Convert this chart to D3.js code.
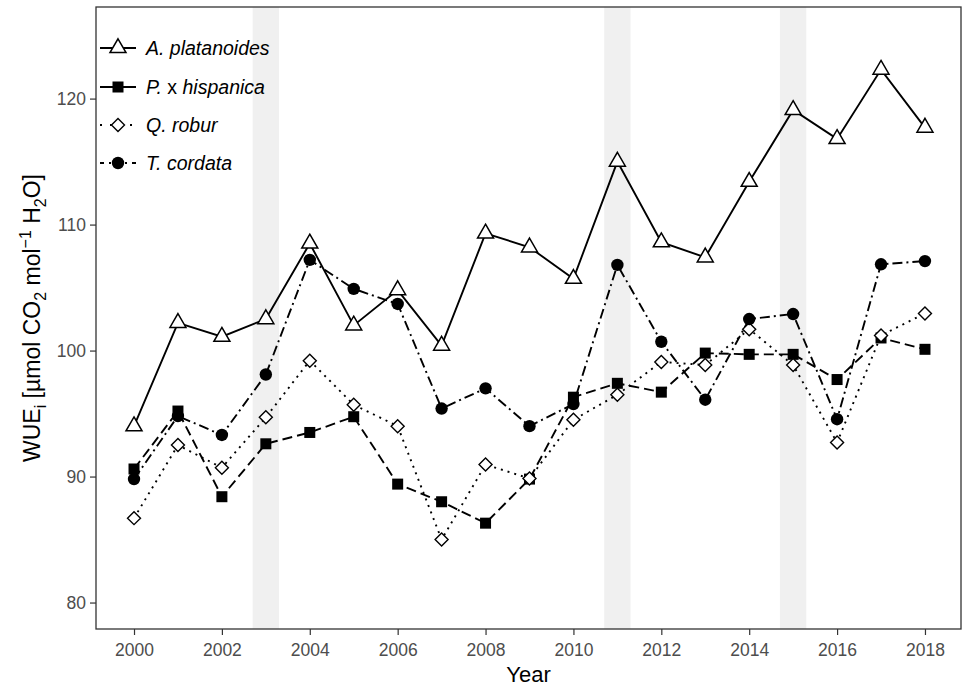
<!DOCTYPE html>
<html>
<head>
<meta charset="utf-8">
<script src="https://cdn.jsdelivr.net/npm/d3@7"></script>
<style>
  html, body { margin: 0; padding: 0; background: #fff; }
  svg { display: block; font-family: "Liberation Sans", Arial, sans-serif; }
</style>
</head>
<body>
<svg id="chart" width="965" height="686"></svg>
<script>
// Years of observation
const years = [2000, 2001, 2002, 2003, 2004, 2005, 2006, 2007, 2008, 2009,
               2010, 2011, 2012, 2013, 2014, 2015, 2016, 2017, 2018];

// Intrinsic water-use efficiency per species
const platanoides = [94.0, 102.2, 101.1, 102.5, 108.5, 102.0, 104.8, 100.4, 109.3, 108.2,
                     105.7, 115.0, 108.6, 107.4, 113.4, 119.1, 116.8, 122.3, 117.7];
const hispanica   = [90.6, 95.2, 88.4, 92.6, 93.5, 94.75, 89.4, 88.0, 86.3, 89.8,
                     96.3, 97.4, 96.7, 99.8, 99.7, 99.7, 97.7, 101.0, 100.1];
const robur       = [86.7, 92.5, 90.7, 94.7, 99.2, 95.7, 94.0, 85.0, 90.95, 89.85,
                     94.5, 96.5, 99.1, 98.85, 101.7, 98.85, 92.7, 101.2, 102.95];
const cordata     = [89.8, 94.8, 93.3, 98.1, 107.2, 104.9, 103.7, 95.4, 97.0, 94.0,
                     95.75, 106.8, 100.7, 96.1, 102.5, 102.9, 94.55, 106.85, 107.1];

// Drought years highlighted as shaded bands
const droughtYears = [2003, 2011, 2015];

const yTicks = [80, 90, 100, 110, 120];
const xTicks = [2000, 2002, 2004, 2006, 2008, 2010, 2012, 2014, 2016, 2018];

const seriesNames = ["A. platanoides", "P. x hispanica", "Q. robur", "T. cordata"];
const seriesValues = [platanoides, hispanica, robur, cordata];
const seriesShape = ["triangle", "square", "diamond", "circle"];
const seriesDash = [null, "10,5", "2,5", "10,4,2,4"];

const svg = d3.select("#chart");
const panel = { left: 96, right: 961, top: 7, bottom: 629 };

const x = d3.scaleLinear().domain([1999.135, 2018.82]).range([panel.left, panel.right]);
const y = d3.scaleLinear().domain([77.9, 127.27]).range([panel.bottom, panel.top]);

// Shaded drought bands
svg.append("g").selectAll("rect")
  .data(droughtYears)
  .join("rect")
  .attr("x", d => x(d - 0.3))
  .attr("width", d => x(d + 0.3) - x(d - 0.3))
  .attr("y", panel.top)
  .attr("height", panel.bottom - panel.top)
  .attr("fill", "#ececec")
  .attr("opacity", 0.8);

// Axes
const axisColor = "#333333";
const tickColor = "#4d4d4d";

const xAxis = svg.append("g")
  .attr("transform", `translate(0,${panel.bottom})`)
  .call(d3.axisBottom(x).tickValues(xTicks).tickFormat(d3.format("d")).tickSize(6).tickPadding(4));
const yAxis = svg.append("g")
  .attr("transform", `translate(${panel.left},0)`)
  .call(d3.axisLeft(y).tickValues(yTicks).tickSize(6).tickPadding(4));

[xAxis, yAxis].forEach(g => {
  g.select(".domain").remove();
  g.selectAll(".tick line").attr("stroke", axisColor).attr("stroke-width", 1.2);
  g.selectAll(".tick text").attr("fill", tickColor)
    .style("font-size", "17.5px").style("font-family", "'Liberation Sans', Arial, sans-serif");
});
xAxis.selectAll(".tick text").attr("dy", "0.95em");

// Panel border
svg.append("rect")
  .attr("x", panel.left).attr("y", panel.top)
  .attr("width", panel.right - panel.left).attr("height", panel.bottom - panel.top)
  .attr("fill", "none").attr("stroke", axisColor).attr("stroke-width", 1.3);

// Axis titles
svg.append("text")
  .attr("x", (panel.left + panel.right) / 2).attr("y", 682)
  .attr("text-anchor", "middle")
  .style("font-size", "22px").attr("fill", "#000")
  .text("Year");

const yTitle = svg.append("text")
  .attr("transform", `translate(40,${(panel.top + panel.bottom) / 2}) rotate(-90)`)
  .attr("text-anchor", "middle")
  .style("font-size", "23px").attr("fill", "#000");
yTitle.append("tspan").text("WUE");
yTitle.append("tspan").attr("dy", 6).style("font-size", "16px").text("i");
yTitle.append("tspan").attr("dy", -6).text(" [µmol CO");
yTitle.append("tspan").attr("dy", 6).style("font-size", "16px").text("2");
yTitle.append("tspan").attr("dy", -6).text(" mol");
yTitle.append("tspan").attr("dy", -9).style("font-size", "16px").text("−1");
yTitle.append("tspan").attr("dy", 9).text(" H");
yTitle.append("tspan").attr("dy", 6).style("font-size", "16px").text("2");
yTitle.append("tspan").attr("dy", -6).text("O]");

// Marker drawing
function drawMarker(g, shape, cx, cy) {
  if (shape === "triangle") {
    const s = 16, h = s * Math.sqrt(3) / 2;
    g.append("path")
      .attr("d", `M${cx},${cy - h * 2 / 3}L${cx + s / 2},${cy + h / 3}L${cx - s / 2},${cy + h / 3}Z`)
      .attr("fill", "#fff").attr("stroke", "#000").attr("stroke-width", 1.5);
  } else if (shape === "square") {
    const s = 11;
    g.append("rect").attr("x", cx - s / 2).attr("y", cy - s / 2)
      .attr("width", s).attr("height", s).attr("fill", "#000");
  } else if (shape === "diamond") {
    const r = 6.5;
    g.append("path")
      .attr("d", `M${cx},${cy - r}L${cx + r},${cy}L${cx},${cy + r}L${cx - r},${cy}Z`)
      .attr("fill", "#fff").attr("stroke", "#000").attr("stroke-width", 1.4);
  } else {
    g.append("circle").attr("cx", cx).attr("cy", cy).attr("r", 6.2).attr("fill", "#000");
  }
}

const line = d3.line().x((d, i) => x(years[i])).y(d => y(d));

// Lines first, then markers on top
const linesG = svg.append("g");
const pointsG = svg.append("g");
seriesValues.forEach((vals, k) => {
  const p = linesG.append("path")
    .datum(vals)
    .attr("d", line)
    .attr("fill", "none")
    .attr("stroke", "#000")
    .attr("stroke-width", 1.9);
  if (seriesDash[k]) p.attr("stroke-dasharray", seriesDash[k]);
});
seriesValues.forEach((vals, k) => {
  const g = pointsG.append("g");
  vals.forEach((v, i) => drawMarker(g, seriesShape[k], x(years[i]), y(v)));
});

// Legend
const legend = svg.append("g");
const legendY = [48, 87, 125, 163];
seriesNames.forEach((name, k) => {
  const ly = legendY[k];
  const seg = legend.append("line")
    .attr("x1", 100).attr("x2", 136).attr("y1", ly).attr("y2", ly)
    .attr("stroke", "#000").attr("stroke-width", 1.9);
  if (seriesDash[k]) {
    const legendDash = ["", "13,0", "2,8", "4,5,2,5"][k];
    seg.attr("stroke-dasharray", legendDash);
  }
  drawMarker(legend, seriesShape[k], 118, ly);
  const t = legend.append("text")
    .attr("x", 146).attr("y", ly + 7)
    .style("font-size", "19.5px").attr("fill", "#000");
  if (k === 1) {
    t.append("tspan").style("font-style", "italic").text("P.");
    t.append("tspan").text(" x ");
    t.append("tspan").style("font-style", "italic").text("hispanica");
  } else {
    t.style("font-style", "italic").text(name);
  }
});
</script>
</body>
</html>
